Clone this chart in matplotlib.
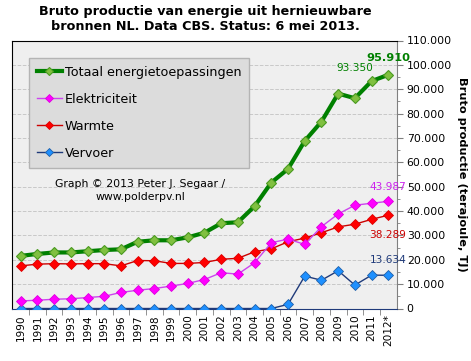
import numpy as np
import matplotlib
matplotlib.use("Agg")
import matplotlib.pyplot as plt
from matplotlib.ticker import FuncFormatter, MultipleLocator, FixedLocator

# --- Data (TJ) ---
YEARS = ['1990', '1991', '1992', '1993', '1994', '1995', '1996', '1997', '1998',
         '1999', '2000', '2001', '2002', '2003', '2004', '2005', '2006', '2007',
         '2008', '2009', '2010', '2011', '2012*']
TOTAAL = [21600, 22400, 23000, 23000, 23500, 24000, 24300, 27400, 28000, 28000,
          29200, 31100, 35000, 35400, 42000, 51700, 57300, 68800, 76700, 88200,
          86300, 93350, 95910]
ELEKTRICITEIT = [3100, 3400, 3800, 4000, 4500, 5000, 6600, 7500, 8200, 9200,
                 10300, 11900, 14700, 14100, 18800, 27000, 28500, 26300, 33600,
                 38800, 42400, 43200, 43987]
WARMTE = [17500, 18200, 18400, 18300, 18400, 18400, 17500, 19700, 19600, 18500,
          18500, 18900, 20200, 20600, 23300, 24500, 27400, 28900, 31100, 33500,
          34600, 36600, 38289]
VERVOER = [0, 0, 0, 0, 0, 0, 0, 0, 0, 0, 0, 0, 0, 0, 0, 0, 1700, 13300, 11600,
           15500, 9600, 13700, 13634]

x = np.arange(len(YEARS))
MS = 5.2

fig = plt.figure(figsize=(4.71, 3.61), dpi=100)
ax = fig.add_axes([12 / 471, 1 - 308.5 / 361, 385 / 471, 268 / 361])
ax.set_facecolor('#efefef')

ax.plot(x, VERVOER, color='#1f3a7a', lw=1.0, marker='D', ms=MS,
        mfc='#1e90ff', mec='#1f5fa8', mew=0.6, label='Vervoer', zorder=3)
ax.plot(x, WARMTE, color='#cc0000', lw=1.0, marker='D', ms=MS,
        mfc='#ff0000', mec='#dd0000', mew=0.6, label='Warmte', zorder=4)
ax.plot(x, ELEKTRICITEIT, color='#cc44ee', lw=1.0, marker='D', ms=MS,
        mfc='#ff00ff', mec='#dd00dd', mew=0.6, label='Elektriciteit', zorder=5)
ax.plot(x, TOTAAL, color='#008000', lw=3.0, marker='D', ms=MS,
        mfc='#80c040', mec='#4a9a20', mew=0.8, label='Totaal energietoepassingen',
        zorder=6)

ax.set_xlim(-0.52, 22.52)
ax.set_ylim(0, 110000)

# y axis on the right
ax.yaxis.tick_right()
ax.yaxis.set_label_position('right')
ax.yaxis.set_major_locator(MultipleLocator(10000))
ax.yaxis.set_minor_locator(MultipleLocator(5000))
ax.yaxis.set_major_formatter(FuncFormatter(lambda v, p: f"{int(v):,}".replace(',', '.')))
ax.tick_params(axis='y', which='major', length=4, color='#808080', labelsize=7.8, pad=3)
ax.tick_params(axis='y', which='minor', length=2.5, color='#808080')
ax.set_ylabel('Bruto productie (terajoule, TJ)', fontsize=8.2, fontweight='bold',
              rotation=270, labelpad=11)
ax.grid(axis='y', which='major', color='#c8c8c8', ls='--', lw=0.7)
ax.set_axisbelow(True)

ax.xaxis.set_major_locator(FixedLocator(x))
ax.set_xticklabels(YEARS, rotation=90, fontsize=7.6)
ax.xaxis.set_minor_locator(FixedLocator(x[:-1] + 0.5))
ax.tick_params(axis='x', which='major', length=0, pad=4)
ax.tick_params(axis='x', which='minor', length=4, color='#808080')

ax.spines['top'].set_color('black')
ax.spines['left'].set_color('black')
ax.spines['right'].set_color('#808080')
ax.spines['bottom'].set_color('#1f3a7a')

fig.text(205 / 471, 1 - 19 / 361,
         'Bruto productie van energie uit hernieuwbare\nbronnen NL. Data CBS. Status: 6 mei 2013.',
         ha='center', va='center', fontsize=9.2, fontweight='bold', linespacing=1.2)

handles, labels = ax.get_legend_handles_labels()
leg = ax.legend(handles[::-1], labels[::-1], loc='upper left',
                bbox_to_anchor=(17 / 385, 1 - 17.5 / 268), fontsize=9.2,
                frameon=True, fancybox=False, borderpad=0.6, labelspacing=1.1,
                handlelength=2.0, handletextpad=0.2, borderaxespad=0,
                markerscale=0.8)
leg.get_frame().set_facecolor('#dcdcdc')
leg.get_frame().set_edgecolor('#b4b4b4')
leg.get_frame().set_alpha(1)
leg.set_zorder(2)

ax.text(128 / 385, 1 - 150 / 268, 'Graph \u00a9 2013 Peter J. Segaar /\nwww.polderpv.nl',
        transform=ax.transAxes, ha='center', va='center', fontsize=7.8,
        linespacing=1.3)

# value labels for 2011/2012
ax.annotate('95.910', (x[-1], TOTAAL[-1]), xytext=(0, 12), textcoords='offset points',
            ha='center', va='center', fontsize=8.2, fontweight='bold', color='#008000',
            annotation_clip=False)
ax.annotate('93.350', (x[-2], TOTAAL[-2]), xytext=(-12, 9.5), textcoords='offset points',
            ha='center', va='center', fontsize=7.6, color='#008000',
            annotation_clip=False)
ax.annotate('43.987', (x[-1], ELEKTRICITEIT[-1]), xytext=(13, 10), textcoords='offset points',
            ha='right', va='center', fontsize=7.6, color='#cc22ee',
            annotation_clip=False)
ax.annotate('38.289', (x[-1], WARMTE[-1]), xytext=(13, -14.5), textcoords='offset points',
            ha='right', va='center', fontsize=7.6, color='#cc0000',
            annotation_clip=False)
ax.annotate('13.634', (x[-1], VERVOER[-1]), xytext=(13, 11), textcoords='offset points',
            ha='right', va='center', fontsize=7.6, color='#1f3a7a',
            annotation_clip=False)

fig.savefig('out.png', dpi=100)
